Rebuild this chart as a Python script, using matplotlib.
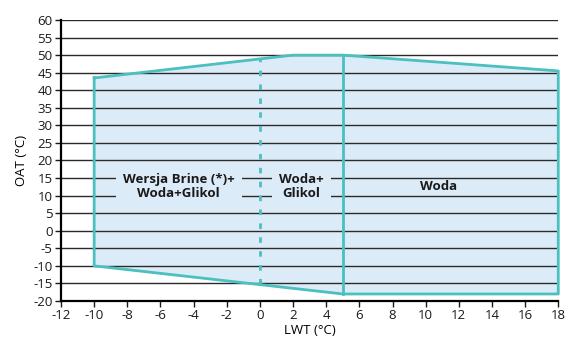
import matplotlib.pyplot as plt
import numpy as np

plt.rcParams['font.family'] = ['Open Sans', 'DejaVu Sans']
plt.rcParams['axes.unicode_minus'] = False

# obwiednia pracy (LWT, OAT)
env_lwt = [-10, 2, 5, 18, 18, 5, -10]
env_oat = [43.5, 50, 50, 45.5, -18, -18, -10]
# granica woda+glikol (przerywana) i woda (ciagla)
split_dash_lwt = [0, 0]
split_dash_oat = [-15.3, 48.9]
split_solid_lwt = [5, 5]
split_solid_oat = [-18, 50]

grid_levels = np.arange(-20, 65, 5)
xticks = np.arange(-12, 20, 2)

labels = ['Wersja Brine (*)+\nWoda+Glikol', 'Woda+\nGlikol', 'Woda']
label_lwt = [-4.9, 2.5, 10.8]
label_oat = [12.5, 12.5, 12.5]

fill_c = '#dcebf8'
edge_c = '#4cbfbf'

fig = plt.figure(figsize=(5.67, 3.4), dpi=100)
ax = fig.add_axes([0.1076, 0.1147, 0.877, 0.8265])

for g in grid_levels:
    ax.axhline(g, color='#2a2a2a', lw=1.0, zorder=1)

ax.fill(env_lwt, env_oat, facecolor=fill_c, edgecolor='none', zorder=0)
ax.plot(env_lwt + [env_lwt[0]], env_oat + [env_oat[0]], color=edge_c, lw=2, zorder=3, clip_on=False)
ax.plot(split_dash_lwt, split_dash_oat, color=edge_c, lw=2, ls=(0, (2, 3)), zorder=3)
ax.plot(split_solid_lwt, split_solid_oat, color=edge_c, lw=2, zorder=3)

for i, t in enumerate(labels):
    if i < 2:
        ax.text(label_lwt[i], label_oat[i], t, ha='center', va='center', fontsize=9.5,
                fontweight='bold', color='#1a1a1a', linespacing=1.1, zorder=4,
                bbox=dict(facecolor=fill_c, edgecolor='none', pad=5))
    else:
        ax.text(label_lwt[i], label_oat[i], t, ha='center', va='center', fontsize=9.5,
                fontweight='bold', color='#1a1a1a', zorder=4)

ax.set_xlim(-12, 18)
ax.set_ylim(-20, 60)
ax.set_xticks(xticks)
ax.set_yticks(grid_levels)
ax.spines['top'].set_visible(False)
ax.spines['right'].set_visible(False)
ax.spines['left'].set_linewidth(1.6)
ax.spines['bottom'].set_linewidth(1.6)
ax.tick_params(direction='out', length=4, width=1, labelsize=9.5, pad=2, colors='#1a1a1a')
ax.set_xlabel('LWT (°C)', fontsize=9.5, labelpad=1)
ax.set_ylabel('OAT (°C)', fontsize=9.5, labelpad=4)

fig.savefig('out.png', dpi=100)
